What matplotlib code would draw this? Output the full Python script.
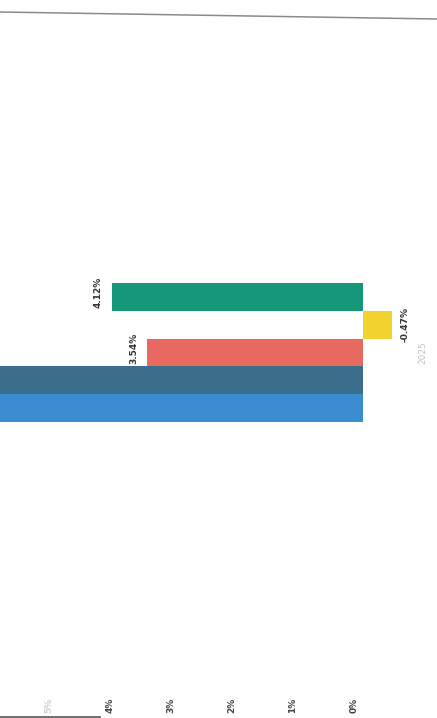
#!/usr/bin/env python3
import matplotlib

matplotlib.use("Agg")
import matplotlib.pyplot as plt
from matplotlib.lines import Line2D
from matplotlib.transforms import ScaledTranslation

# o grafico original esta girado 90 graus (pagina escaneada de lado),
# entao desenhamos barras horizontais com o eixo de valores invertido
CATEGORY = "2025"
SERIES = ["s1", "s2", "s3", "s4", "s5"]
VALUES = [7.85, 7.21, 3.54, -0.47, 4.12]  # as duas primeiras saem do recorte
LABELS = ["7.85%", "7.21%", "3.54%", "-0.47%", "4.12%"]
COLORS = ["#3a8bcf", "#3b6e8b", "#e8695f", "#f2d22e", "#17977a"]
TICKS = [0, 1, 2, 3, 4, 5]
TICK_LABELS = ["0%", "1%", "2%", "3%", "4%", "5%"]

W, H = 437, 718
fig = plt.figure(figsize=(W / 100, H / 100), dpi=100)
ax = fig.add_axes([0, 0.04, 410 / W, 0.96])

bar_h = 0.16
for i, (val, lab, col) in enumerate(zip(VALUES, LABELS, COLORS)):
    y = (i - 2) * bar_h
    ax.barh(y, val, height=bar_h, color=col, zorder=2)
    # rotulo fica por baixo das barras (como no original, o 3.54% some um pouco)
    if val >= 0:
        off, ha = -6.5, "right"
    else:
        off, ha = 6, "left"
    ax.annotate(
        lab,
        (val, y),
        xytext=(off, 3 if val >= 0 else 0),
        textcoords="offset points",
        rotation=90,
        ha=ha,
        va="center",
        fontsize=6.5,
        fontweight="bold",
        color="#333333",
        zorder=1,
    )

# escala: zero em x=363 px, 61 px por ponto percentual
ax.set_xlim(363 / 61, (363 - 410) / 61)
ax.set_ylim(-1.937, 2.028)

ax.set_xticks(TICKS)
ax.set_xticklabels(TICK_LABELS, rotation=90, fontsize=6.5, fontweight="bold", color="#444444")
ax.tick_params(axis="x", length=0, pad=6)
shift = ScaledTranslation(-9 / 100, 0, fig.dpi_scale_trans)
for t in ax.get_xticklabels():
    t.set_transform(t.get_transform() + shift)
ax.get_xticklabels()[-1].set_color("#cfcfcf")

ax.yaxis.tick_right()
ax.set_yticks([0])
ax.set_yticklabels([CATEGORY], rotation=90, va="center", fontsize=6.5, color="#c4c4c4")
ax.tick_params(axis="y", length=0, pad=6)

for side in ax.spines.values():
    side.set_visible(False)

# borda da folha escaneada
fig.add_artist(Line2D([0, 1], [1 - 12 / H, 1 - 19 / H], color="#8a8a8a", lw=1.1))
fig.add_artist(Line2D([0, 100 / W], [0.6 / H, 0.6 / H], color="#555555", lw=1.2))

fig.savefig("out.png", dpi=100)
